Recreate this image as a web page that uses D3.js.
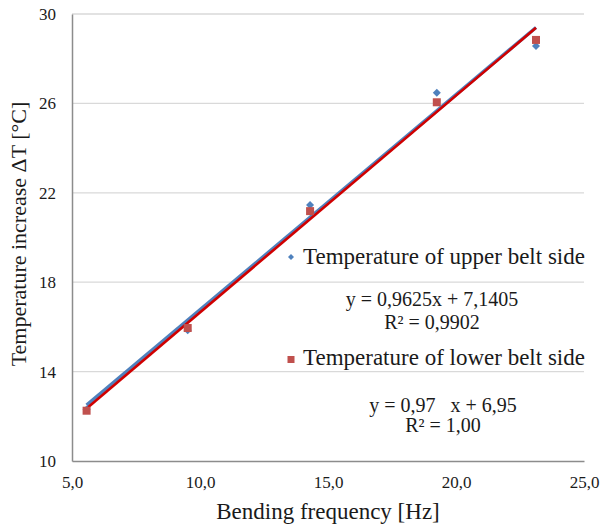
<!DOCTYPE html>
<html><head><meta charset="utf-8">
<script src="https://cdn.jsdelivr.net/npm/d3@7"></script>
<style>body{margin:0;background:#fff}svg{display:block}text{font-family:"Liberation Serif","Times New Roman",serif;fill:#1a1a1a}</style>
</head><body>
<script>
const frequency = [5.57, 9.52, 14.3, 19.25, 23.125];
const upperTemp = [12.3, 15.85, 21.45, 26.48, 28.57];
const lowerTemp = [12.25, 15.95, 21.18, 26.05, 28.84];
const upperFit = {slope: 0.9625, intercept: 7.1405};
const lowerFit = {slope: 0.97, intercept: 6.95};
const xTicks = [5, 10, 15, 20, 25];
const yTicks = [10, 14, 18, 22, 26, 30];
const seriesNames = ["Temperature of upper belt side", "Temperature of lower belt side"];
const eqTexts = [["y = 0,9625x + 7,1405", "R² = 0,9902"], ["y = 0,97   x + 6,95", "R² = 1,00"]];

const SERIF = '"Liberation Serif","Times New Roman",serif';
const W = 602, H = 527;
const m = {l: 72, r: 18, t: 14, b: 66};
const svg = d3.select("body").append("svg").attr("width", W).attr("height", H).attr("font-family", SERIF);
const x = d3.scaleLinear().domain([5, 25]).range([m.l, W - m.r]);
const y = d3.scaleLinear().domain([10, 30]).range([H - m.b, m.t]);

// gridlines
svg.append("g").selectAll("line").data(yTicks.filter(d => d > 10)).join("line")
  .attr("x1", x(5)).attr("x2", x(25)).attr("y1", d => y(d)).attr("y2", d => y(d))
  .attr("stroke", "#d9d9d9").attr("stroke-width", 1.3);

// axes
const fmt = d => d.toFixed(1).replace(".", ",");
const gx = svg.append("g").attr("transform", `translate(0,${y(10)})`)
  .call(d3.axisBottom(x).tickValues(xTicks).tickFormat(fmt).tickSize(0).tickPadding(15));
const gy = svg.append("g").attr("transform", `translate(${x(5)},0)`)
  .call(d3.axisLeft(y).tickValues(yTicks).tickFormat(d3.format("d")).tickSize(0).tickPadding(16));
[gx, gy].forEach(g => {
  g.attr("font-family", SERIF).attr("font-size", 17);
  g.select(".domain").attr("stroke", "#8c8c8c").attr("stroke-width", 1.5);
  g.selectAll("text").attr("font-family", SERIF).style("font-size", "17px").attr("fill", "#1a1a1a");
});

// trend lines
const line = d3.line().x(d => x(d[0])).y(d => y(d[1]));
const xr = d3.extent(frequency);
const fitPts = f => xr.map(v => [v, f.slope * v + f.intercept]);
svg.append("path").attr("d", line(fitPts(upperFit))).attr("stroke", "#4f81bd").attr("stroke-width", 3.4).attr("fill", "none");
svg.append("path").attr("d", line(fitPts(lowerFit))).attr("stroke", "#d00000").attr("stroke-width", 2.6).attr("fill", "none");

// markers
const diamond = d3.symbol().type(d3.symbolSquare).size(32);
svg.append("g").selectAll("path").data(frequency.map((f, i) => [f, upperTemp[i]])).join("path")
  .attr("d", diamond).attr("transform", d => `translate(${x(d[0])},${y(d[1])}) rotate(45)`).attr("fill", "#4f81bd");
svg.append("g").selectAll("rect").data(frequency.map((f, i) => [f, lowerTemp[i]])).join("rect")
  .attr("x", d => x(d[0]) - 4).attr("y", d => y(d[1]) - 4).attr("width", 8).attr("height", 8).attr("fill", "#c0504d");

// legend
const lg = svg.append("g");
lg.append("path").attr("d", d3.symbol().type(d3.symbolSquare).size(18)).attr("transform", "translate(291,257) rotate(45)").attr("fill", "#4f81bd");
lg.append("text").attr("x", 303).attr("y", 264).style("font-size", "23px").text(seriesNames[0]);
lg.append("rect").attr("x", 287.5).attr("y", 356).attr("width", 7).attr("height", 7).attr("fill", "#c0504d");
lg.append("text").attr("x", 303).attr("y", 365).style("font-size", "23px").text(seriesNames[1]);

const eq = [[432, 306, 329], [443, 412, 432]];
eqTexts.forEach((t, i) => {
  lg.append("text").attr("x", eq[i][0]).attr("y", eq[i][1]).attr("text-anchor", "middle").style("font-size", "20px").style("white-space", "pre").text(t[0]);
  lg.append("text").attr("x", eq[i][0]).attr("y", eq[i][2]).attr("text-anchor", "middle").style("font-size", "20px").text(t[1]);
});

// axis titles
svg.append("text").attr("x", x(15)).attr("y", 519).attr("text-anchor", "middle").style("font-size", "23px").text("Bending frequency [Hz]");
svg.append("text").attr("transform", `translate(26,234) rotate(-90)`).attr("text-anchor", "middle").style("font-size", "22px").text("Temperature increase ΔT [°C]");
</script>
</body></html>
